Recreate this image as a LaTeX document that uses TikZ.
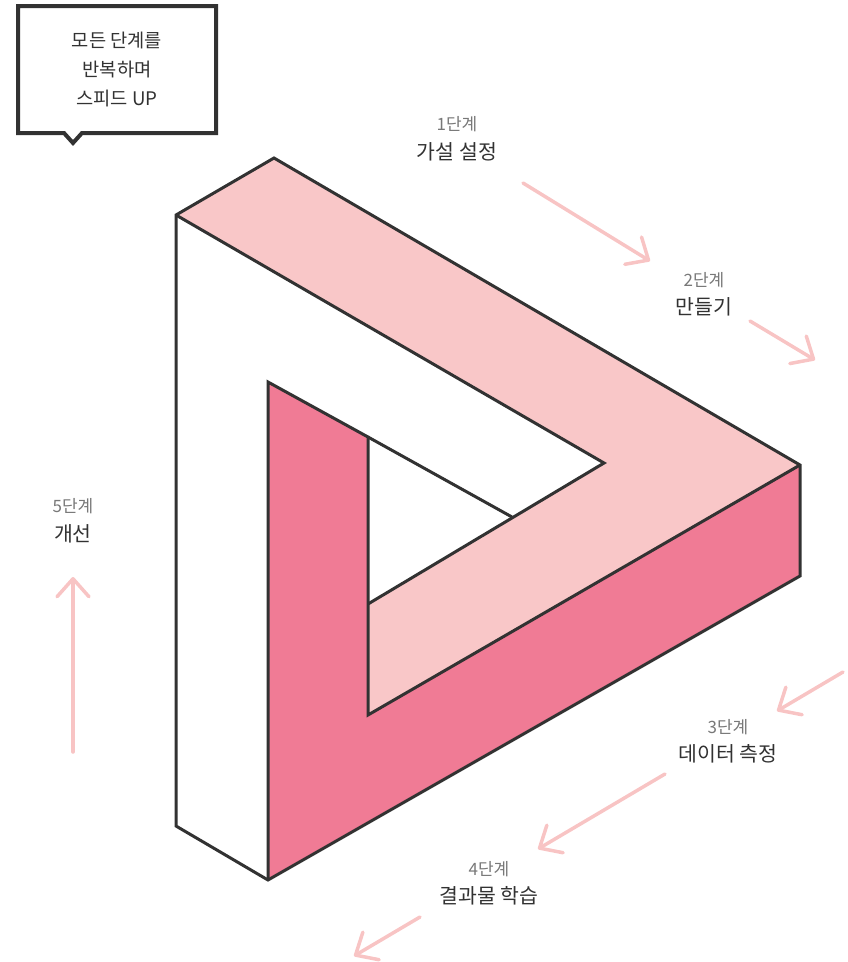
\documentclass[tikz,border=0pt]{standalone}
\usepackage{fontspec}
\setmainfont{Noto Sans CJK KR}
\usepackage{xcolor}
\usepackage{tikz}
\usetikzlibrary{arrows.meta}
\definecolor{LightPink}{RGB}{249, 199, 200}
\definecolor{DeepPink}{RGB}{240, 123, 149}
\definecolor{ArrowPink}{RGB}{248, 196, 196}
\definecolor{Outline}{RGB}{50, 50, 50}
\definecolor{StepGray}{RGB}{120, 120, 120}

\tikzset{
  edge/.style={draw=Outline, line width=3pt},
  flow/.style={draw=ArrowPink, line width=3.5pt, line cap=round,
    -{Straight Barb[length=18pt, width=32pt, round]}},
  stepnum/.style={font=\fontsize{17}{20}\selectfont, text=StepGray},
  steptitle/.style={font=\fontsize{20.5}{24}\selectfont, text=Outline},
}

\begin{document}
\begin{tikzpicture}[x=1pt, y=-1pt]
\useasboundingbox (0,0) rectangle (848,962);

% corners of the triangle
\coordinate (A) at (176,215); \coordinate (B) at (274,158);
\coordinate (C) at (800,465); \coordinate (D) at (800,576);
\coordinate (E) at (268,880); \coordinate (F) at (176,826);
\coordinate (G) at (268,382); \coordinate (H) at (368,437);
\coordinate (I) at (604,463); \coordinate (J) at (512,517);
\coordinate (K) at (368,604); \coordinate (L) at (368,715);

\fill[white] (A) -- (I) -- (K) -- (H) -- (G) -- (E) -- (F) -- cycle;
\fill[LightPink] (A) -- (B) -- (C) -- (L) -- (K) -- (I) -- cycle;
\fill[DeepPink] (G) -- (H) -- (L) -- (C) -- (D) -- (E) -- cycle;

\draw[edge] (A) -- (B) -- (C) -- (D) -- (E) -- (F) -- cycle;
\draw[edge] (A) -- (I) -- (K);
\draw[edge] (C) -- (L) -- (H) -- (G) -- (E);
\draw[edge] (H) -- (J);

% speech bubble
\draw[Outline, line width=4pt] (18,6) -- (216,6) -- (216,133) -- (82,133) -- (73,143)
  -- (64,133) -- (18,133) -- cycle;
\node[align=center, font=\fontsize{18.7}{29}\selectfont, text=Outline] (bubble) at (117,69)
  {모든 단계를\\반복하며\\스피드 UP};

% steps
\node[stepnum] (n1) at (457,124) {1단계};
\node[steptitle] (t1) at (457,152) {가설 설정};
\node[stepnum] (n2) at (704,280) {2단계};
\node[steptitle] (t2) at (704,307) {만들기};
\node[stepnum] (n3) at (728,727) {3단계};
\node[steptitle] (t3) at (728,754) {데이터 측정};
\node[stepnum] (n4) at (489,869) {4단계};
\node[steptitle] (t4) at (489,896) {결과물 학습};
\node[stepnum] (n5) at (73,506) {5단계};
\node[steptitle] (t5) at (73,534) {개선};

% arrows
\coordinate (a1s) at (523,183); \coordinate (a1e) at (650,261);
\coordinate (a2s) at (750,321); \coordinate (a2e) at (815,360);
\coordinate (a3s) at (843,672); \coordinate (a3e) at (777,711);
\coordinate (a4s) at (665,774); \coordinate (a4e) at (538,849);
\coordinate (a5s) at (420,917); \coordinate (a5e) at (354,956);
\coordinate (a6s) at (73,752); \coordinate (a6e) at (73,577);
\draw[flow] (a1s) -- (a1e);
\draw[flow] (a2s) -- (a2e);
\draw[flow] (a3s) -- (a3e);
\draw[flow] (a4s) -- (a4e);
\draw[flow] (a5s) -- (a5e);
\draw[flow] (a6s) -- (a6e);
\end{tikzpicture}
\end{document}
